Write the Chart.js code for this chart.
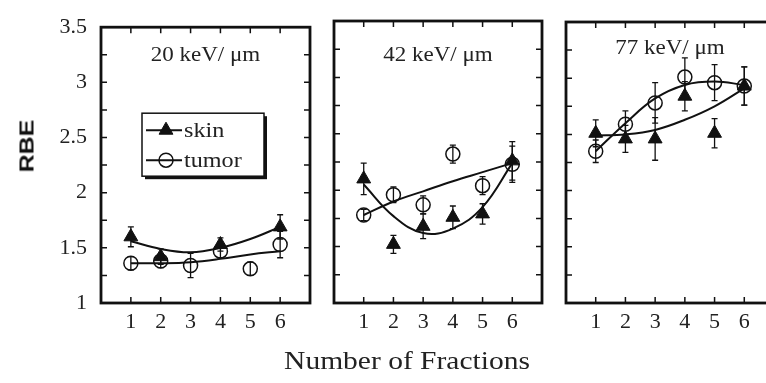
<!DOCTYPE html>
<html>
<head>
<meta charset="utf-8">
<script src="https://cdn.jsdelivr.net/npm/chart.js@4.4.1/dist/chart.umd.min.js"></script>
<style>
  body { margin: 0; width: 766px; height: 383px; overflow: hidden; background: #fff; position: relative; }
  canvas { position: absolute; left: 0; top: 0; }
  #rbe { position: absolute; left: 27px; top: 146px; transform: translate(-50%, -50%) rotate(-90deg) scaleX(1.25);
         font: bold 20px "Liberation Sans", Arial, sans-serif; color: #111; }
  #xtitle { position: absolute; left: 407px; top: 348px; transform: translateX(-50%) scaleX(1.18); white-space: nowrap;
            font: 25px/25px "Liberation Serif", "Times New Roman", serif; color: #222; }
</style>
</head>
<body>
<canvas id="p1" width="800" height="383"></canvas>
<canvas id="p2" width="800" height="383"></canvas>
<canvas id="p3" width="800" height="383"></canvas>
<div id="rbe">RBE</div>
<div id="xtitle">Number of Fractions</div>
<script>
const fractions = [1, 2, 3, 4, 5, 6];
const yTicks = [1, 1.5, 2, 2.5, 3, 3.5];
const yMinor = [1.25, 1.5, 1.75, 2, 2.25, 2.5, 2.75, 3, 3.25];
const titles = ["20 keV/ \u03bcm", "42 keV/ \u03bcm", "77 keV/ \u03bcm"];

// 20 keV/um
const skin20 = [1.60, 1.42, null, 1.53, null, 1.69];
const skinErr20 = [0.09, 0.07, null, 0.06, null, 0.11];
const skinFit20 = [1.56, 1.49, 1.46, 1.50, 1.58, 1.69];
const tumor20 = [1.36, 1.38, 1.34, 1.47, 1.31, 1.53];
const tumorErr20 = [0.06, 0.06, 0.11, 0.06, 0.06, 0.12];
const tumorFit20 = [1.36, 1.36, 1.37, 1.40, 1.44, 1.47];

// 42 keV/um
const skin42 = [2.10, 1.52, 1.68, 1.76, 1.79, 2.26];
const skinErr42 = [0.14, 0.08, 0.11, 0.10, 0.09, 0.17];
const skinFit42 = [2.05, 1.77, 1.62, 1.66, 1.85, 2.24];
const tumor42 = [1.78, 1.96, 1.87, 2.32, 2.04, 2.23];
const tumorErr42 = [0.05, 0.07, 0.08, 0.08, 0.08, 0.16];
const tumorFit42 = [1.78, 1.90, 1.99, 2.08, 2.16, 2.24];

// 77 keV/um
const skin77 = [2.51, 2.46, 2.46, 2.84, 2.51, 2.93];
const skinErr77 = [0.12, 0.12, 0.19, 0.13, 0.13, 0.17];
const skinFit77 = [2.49, 2.50, 2.54, 2.63, 2.75, 2.91];
const tumor77 = [2.35, 2.59, 2.78, 3.01, 2.96, 2.93];
const tumorErr77 = [0.10, 0.12, 0.18, 0.17, 0.16, 0.17];
const tumorFit77 = [2.35, 2.60, 2.82, 2.94, 2.97, 2.94];

const serif = '"Liberation Serif", "Times New Roman", serif';
Chart.defaults.font.family = serif;
Chart.defaults.font.size = 22;
Chart.defaults.color = "#222";

function pts(vals) {
  return fractions.map((f, i) => ({ x: f, y: vals[i] })).filter(p => p.y !== null);
}

// stretched text, the source figure is a bit wider than tall
function wideText(ctx, text, x, y, size, sx, align) {
  ctx.save();
  ctx.font = size + "px " + serif;
  ctx.textAlign = align;
  ctx.textBaseline = "middle";
  ctx.translate(x, y);
  ctx.scale(sx, 1);
  ctx.fillText(text, 0, 0);
  ctx.restore();
}

const framePlugin = {
  id: "frame",
  beforeDatasetsDraw(chart, args, opts) {
    const { ctx, chartArea: a, scales } = chart;
    ctx.save();
    ctx.strokeStyle = "#111";
    ctx.lineWidth = 1.5;
    ctx.beginPath();
    yMinor.forEach(v => {
      const y = scales.y.getPixelForValue(v);
      ctx.moveTo(a.left, y); ctx.lineTo(a.left + 6, y);
      ctx.moveTo(a.right, y); ctx.lineTo(a.right - 6, y);
    });
    fractions.forEach(v => {
      const x = scales.x.getPixelForValue(v);
      ctx.moveTo(x, a.bottom); ctx.lineTo(x, a.bottom - 6);
      ctx.moveTo(x, a.top); ctx.lineTo(x, a.top + 6);
    });
    ctx.stroke();
    ctx.lineWidth = 2.8;
    ctx.strokeRect(a.left, a.top, a.right - a.left, a.bottom - a.top);

    ctx.fillStyle = "#222";
    wideText(ctx, opts.title, (a.left + a.right) / 2, opts.titleY, 20, 1.15, "center");

    // error bars
    ctx.lineWidth = 1.3;
    chart.data.datasets.forEach(ds => {
      if (!ds.errors) return;
      ds.data.forEach(p => {
        const e = ds.errors[fractions.indexOf(p.x)];
        if (!e) return;
        const x = scales.x.getPixelForValue(p.x);
        const y1 = scales.y.getPixelForValue(p.y + e);
        const y2 = scales.y.getPixelForValue(p.y - e);
        ctx.beginPath();
        ctx.moveTo(x, y1); ctx.lineTo(x, y2);
        ctx.moveTo(x - 3, y1); ctx.lineTo(x + 3, y1);
        ctx.moveTo(x - 3, y2); ctx.lineTo(x + 3, y2);
        ctx.stroke();
      });
    });
    ctx.restore();
  },
  afterDatasetsDraw(chart, args, opts) {
    if (!opts.legend) return;
    const { ctx, chartArea: a } = chart;
    const bx = a.left + 41, by = a.top + 86, bw = 122, bh = 63;
    ctx.save();
    ctx.fillStyle = "#111";
    ctx.fillRect(bx + 3, by + 3, bw, bh);
    ctx.fillStyle = "#fff";
    ctx.fillRect(bx, by, bw, bh);
    ctx.strokeStyle = "#111";
    ctx.lineWidth = 1.5;
    ctx.strokeRect(bx, by, bw, bh);
    chart.data.datasets.filter(d => d.showInLegend).forEach((d, i) => {
      const y = by + 17 + i * 30;
      ctx.strokeStyle = "#111";
      ctx.lineWidth = 2;
      ctx.beginPath();
      ctx.moveTo(bx + 4, y); ctx.lineTo(bx + 40, y);
      ctx.stroke();
      ctx.fillStyle = d.backgroundColor;
      ctx.lineWidth = d.borderWidth;
      Chart.helpers.drawPoint(ctx, { pointStyle: d.pointStyle, radius: d.pointRadius, borderWidth: d.borderWidth }, bx + 24, y);
      ctx.fillStyle = "#222";
      wideText(ctx, d.label, bx + 42, y + 1, 21, 1.15, "left");
    });
    ctx.restore();
  }
};

function makePanel(id, area, yAxisWidth, title, titleY, skin, skinErr, skinFit, tumor, tumorErr, tumorFit, legend) {
  return new Chart(document.getElementById(id), {
    type: "line",
    data: {
      datasets: [
        { label: "skin fit", data: pts(skinFit), borderColor: "#111", borderWidth: 2, pointRadius: 0, tension: 0.4, fill: false },
        { label: "tumor fit", data: pts(tumorFit), borderColor: "#111", borderWidth: 2, pointRadius: 0, tension: 0.4, fill: false },
        { label: "skin", data: pts(skin), errors: skinErr, showLine: false, showInLegend: true,
          pointStyle: "triangle", pointRadius: 8, backgroundColor: "#111", borderColor: "#111", borderWidth: 1 },
        { label: "tumor", data: pts(tumor), errors: tumorErr, showLine: false, showInLegend: true,
          pointStyle: "circle", pointRadius: 7, backgroundColor: "rgba(0,0,0,0)", borderColor: "#111", borderWidth: 1.5 }
      ]
    },
    options: {
      responsive: false,
      animation: false,
      layout: {
        padding: { left: area.left - yAxisWidth, right: 800 - area.right, top: area.top, bottom: 383 - area.bottom - 40 }
      },
      plugins: {
        legend: { display: false },
        tooltip: { enabled: false },
        frame: { title: title, titleY: titleY, legend: legend }
      },
      scales: {
        x: {
          type: "linear", min: 0, max: 7,
          grid: { display: false, drawTicks: false },
          border: { display: false },
          ticks: { padding: 6 },
          afterBuildTicks: s => { s.ticks = fractions.map(v => ({ value: v })); },
          afterFit: s => { s.height = 40; }
        },
        y: {
          min: 1, max: 3.5,
          grid: { display: false, drawTicks: false },
          border: { display: false },
          ticks: { display: yAxisWidth > 0, padding: 14, callback: v => String(v) },
          afterBuildTicks: s => { s.ticks = yTicks.map(v => ({ value: v })); },
          afterFit: s => { s.width = yAxisWidth; }
        }
      }
    },
    plugins: [framePlugin]
  });
}

makePanel("p1", { left: 101, right: 310, top: 20, bottom: 303 }, 60, titles[0], 56,
  skin20, skinErr20, skinFit20, tumor20, tumorErr20, tumorFit20, true);
makePanel("p2", { left: 334, right: 542, top: 21, bottom: 303 }, 0, titles[1], 56,
  skin42, skinErr42, skinFit42, tumor42, tumorErr42, tumorFit42, false);
makePanel("p3", { left: 566, right: 774, top: 22, bottom: 303 }, 0, titles[2], 49,
  skin77, skinErr77, skinFit77, tumor77, tumorErr77, tumorFit77, false);
</script>
</body>
</html>
